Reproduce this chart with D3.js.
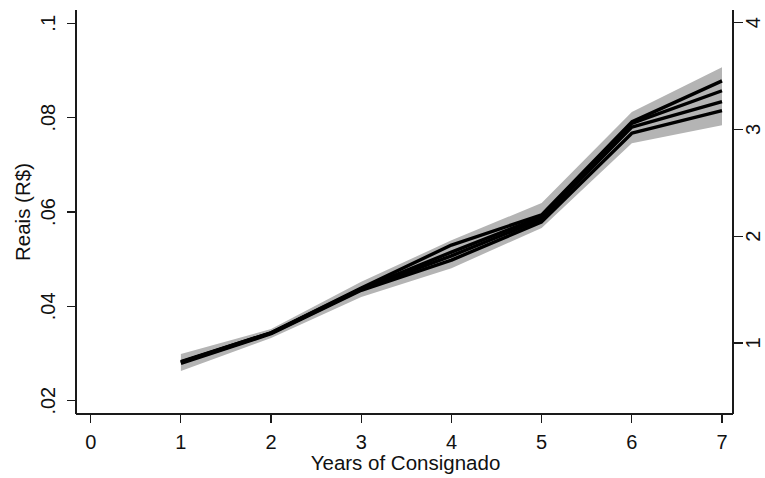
<!DOCTYPE html>
<html>
<head>
<meta charset="utf-8">
<script src="https://cdn.jsdelivr.net/npm/d3@7"></script>
<style>
  html, body { margin: 0; padding: 0; background: #fff; }
  svg { display: block; font-family: "Liberation Sans", Arial, sans-serif; }
</style>
</head>
<body>
<svg id="chart" width="765" height="478"></svg>
<script>
// ---- data ----
const years = [1, 2, 3, 4, 5, 6, 7];
const xTicks = [0, 1, 2, 3, 4, 5, 6, 7];
const yTicksLeft = [0.02, 0.04, 0.06, 0.08, 0.1];
const yTickLabelsLeft = [".02", ".04", ".06", ".08", ".1"];
const yTicksRight = [1, 2, 3, 4];
const series1 = [0.0282, 0.0344, 0.0439, 0.0530, 0.0594, 0.0791, 0.0878];
const series2 = [0.0283, 0.0344, 0.0437, 0.0515, 0.0590, 0.0788, 0.0857];
const series3 = [0.0281, 0.0343, 0.0436, 0.0507, 0.0585, 0.0780, 0.0834];
const series4 = [0.0279, 0.0342, 0.0434, 0.0498, 0.0579, 0.0767, 0.0815];
const bandUpper = [0.0299, 0.0352, 0.0452, 0.0540, 0.0619, 0.0812, 0.0907];
const bandLower = [0.0263, 0.0333, 0.0420, 0.0481, 0.0566, 0.0746, 0.0784];
const xTitle = "Years of Consignado";
const yTitle = "Reais (R$)";

// ---- layout ----
(function () {
  const svg = d3.select("#chart");
  const pLeft = 76, pRight = 733, pTop = 10, pBottom = 414;
  const x = d3.scaleLinear().domain([0, 7]).range([90.7, 722]);
  const y = d3.scaleLinear().domain([0.02, 0.1]).range([400.7, 23.3]);
  const yR = d3.scaleLinear().domain([1, 4]).range([343, 22.7]);
  const axisColor = "#1a1a1a";
  const fontSize = 20;

  // band
  const area = d3.area()
    .x((d, i) => x(years[i]))
    .y0((d, i) => y(bandLower[i]))
    .y1((d, i) => y(bandUpper[i]));
  svg.append("path").datum(bandUpper).attr("d", area).attr("fill", "#b4b4b4");

  // lines
  const line = d3.line().x((d, i) => x(years[i])).y(d => y(d));
  [series1, series2, series3, series4].forEach(s => {
    svg.append("path").datum(s).attr("d", line)
      .attr("fill", "none").attr("stroke", "#000").attr("stroke-width", 3.4)
      .attr("stroke-linejoin", "round");
  });

  // axes lines
  const g = svg.append("g").attr("stroke", axisColor).attr("stroke-width", 1.2).attr("shape-rendering", "crispEdges");
  g.append("line").attr("x1", pLeft).attr("x2", pLeft).attr("y1", pTop).attr("y2", pBottom);
  g.append("line").attr("x1", pLeft).attr("x2", pRight).attr("y1", pBottom).attr("y2", pBottom);
  g.append("line").attr("x1", pRight).attr("x2", pRight).attr("y1", pTop).attr("y2", pBottom);

  // left ticks
  yTicksLeft.forEach((t, i) => {
    g.append("line").attr("x1", 67).attr("x2", pLeft).attr("y1", y(t)).attr("y2", y(t));
    svg.append("text")
      .attr("transform", `translate(55,${y(t)}) rotate(-90)`)
      .attr("text-anchor", "middle").attr("font-size", fontSize).attr("fill", "#111")
      .text(yTickLabelsLeft[i]);
  });

  // right ticks
  yTicksRight.forEach(t => {
    g.append("line").attr("x1", pRight).attr("x2", 743).attr("y1", yR(t)).attr("y2", yR(t));
    svg.append("text")
      .attr("transform", `translate(760,${yR(t)}) rotate(-90)`)
      .attr("text-anchor", "middle").attr("font-size", fontSize).attr("fill", "#111")
      .text(d3.format("d")(t));
  });

  // x ticks
  xTicks.forEach(t => {
    g.append("line").attr("x1", x(t)).attr("x2", x(t)).attr("y1", pBottom).attr("y2", 423);
    svg.append("text")
      .attr("x", x(t)).attr("y", 449)
      .attr("text-anchor", "middle").attr("font-size", fontSize).attr("fill", "#111")
      .text(t);
  });

  // titles
  svg.append("text")
    .attr("x", (pLeft + pRight) / 2 + 1).attr("y", 470)
    .attr("text-anchor", "middle").attr("font-size", 20.5).attr("fill", "#111")
    .text(xTitle);
  svg.append("text")
    .attr("transform", `translate(30,${(pTop + pBottom) / 2}) rotate(-90)`)
    .attr("text-anchor", "middle").attr("font-size", 20.5).attr("fill", "#111")
    .text(yTitle);
})();
</script>
</body>
</html>
